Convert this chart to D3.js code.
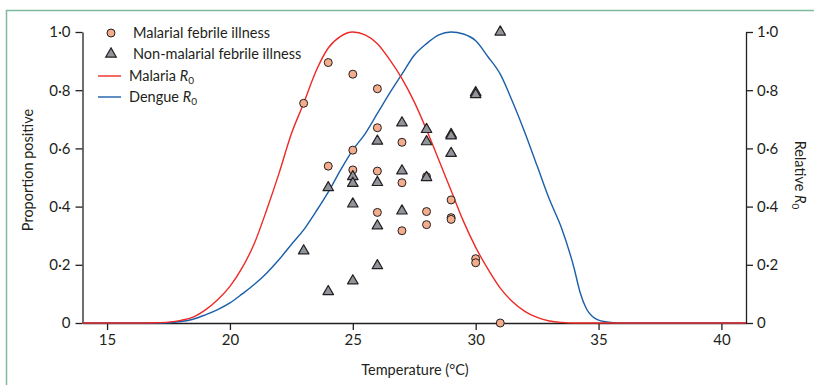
<!DOCTYPE html>
<html><head><meta charset="utf-8">
<script src="https://cdn.jsdelivr.net/npm/d3@7"></script>
<style>
body{margin:0;background:#fff;}
text{font-family:Lato,"Open Sans",sans-serif;fill:#231f20;}
</style></head>
<body><svg id="c" width="814" height="385"></svg>
<script>
// ---- data ----
const malariaTemp = [23,24,25,26,25,24,27,25,26,26,27,28,29,26,28,29,29,28,27,30,30,31];
const malariaProp = [0.755,0.895,0.855,0.805,0.594,0.539,0.621,0.526,0.671,0.522,0.482,0.503,0.423,0.380,0.383,0.362,0.356,0.338,0.317,0.221,0.207,0.0];

const nonMalTemp = [27,28,29,29,26,28,29,27,25,28,25,26,24,25,27,26,23,26,25,24,30,30,31];
const nonMalProp = [0.688,0.665,0.648,0.643,0.625,0.623,0.583,0.523,0.503,0.500,0.480,0.483,0.465,0.409,0.385,0.334,0.248,0.197,0.145,0.108,0.792,0.785,1.0];

const malR0Temp = [14,16,17,17.5,18,18.5,19,19.5,20,20.5,21,21.5,22,22.5,23,23.5,24,24.5,25,25.5,26,26.5,27,27.5,28,28.5,29,29.5,30,30.5,31,31.5,32,32.5,33,33.5,34,41];
const malR0Val  = [0,0,0.001,0.003,0.009,0.02,0.045,0.08,0.126,0.19,0.275,0.39,0.515,0.65,0.755,0.865,0.945,0.985,1.0,0.99,0.96,0.905,0.84,0.76,0.664,0.56,0.455,0.35,0.26,0.185,0.12,0.073,0.04,0.019,0.007,0.002,0,0];

const denR0Temp = [14,17,17.5,18,18.5,19,19.5,20,20.5,21,21.5,22,22.5,23,23.5,24,24.5,25,25.5,26,26.5,27,27.5,28,28.5,29,29.5,30,30.5,31,31.5,32,32.5,33,33.5,34,34.25,34.5,34.75,35,35.5,36,41];
const denR0Val  = [0,0,0.001,0.005,0.013,0.028,0.046,0.069,0.1,0.133,0.172,0.218,0.27,0.32,0.383,0.45,0.525,0.595,0.65,0.72,0.79,0.855,0.92,0.96,0.99,1.0,0.993,0.97,0.915,0.855,0.76,0.655,0.54,0.425,0.325,0.19,0.105,0.05,0.022,0.01,0.002,0,0];

const xTicks = [15,20,25,30,35,40];
const yTicks = [0,0.2,0.4,0.6,0.8,1.0];
const legendLabels = ["Malarial febrile illness","Non-malarial febrile illness","Malaria","Dengue"];

// ---- drawing ----
const svg = d3.select("#c");
const ink = "#231f20", red = "#ee2a24", blue = "#1a5fa8";
const circFill = "#f4ad8c", triFill = "#8f959a";

// frame
svg.append("path").attr("d","M6.5,385 L6.5,10.5 L814,10.5").attr("fill","none").attr("stroke","#7dbb9b").attr("stroke-width",1.5);

const x = d3.scaleLinear().domain([14,41]).range([82.5,746]);
const y = d3.scaleLinear().domain([0,1]).range([323,32]);
const fmt = d => d===0 ? "0" : d3.format(".1f")(d).replace(".","·");

function styleAxis(g){
  g.selectAll("path,line").attr("stroke",ink).attr("stroke-width",1.3);
  g.selectAll("text").attr("font-family","Lato, sans-serif").attr("font-size","15px").attr("fill",ink);
}
const gx = svg.append("g").attr("transform",`translate(0,${y(0)})`)
  .call(d3.axisBottom(x).tickValues(xTicks).tickSize(7).tickSizeOuter(0).tickPadding(4));
styleAxis(gx);
const gl = svg.append("g").attr("transform",`translate(${x(14)},0)`)
  .call(d3.axisLeft(y).tickValues(yTicks).tickFormat(fmt).tickSize(7).tickSizeOuter(0).tickPadding(5));
styleAxis(gl);
const gr = svg.append("g").attr("transform",`translate(${x(41)},0)`)
  .call(d3.axisRight(y).tickValues(yTicks).tickFormat(fmt).tickSize(7).tickSizeOuter(0).tickPadding(4));
styleAxis(gr);

// curves
const line = d3.line().x(d=>x(d[0])).y(d=>y(d[1])).curve(d3.curveMonotoneX);
svg.append("path").datum(denR0Temp.map((t,i)=>[t,denR0Val[i]]))
  .attr("d",line).attr("fill","none").attr("stroke",blue).attr("stroke-width",1.4);
svg.append("path").datum(malR0Temp.map((t,i)=>[t,malR0Val[i]]))
  .attr("d",line).attr("fill","none").attr("stroke",red).attr("stroke-width",1.4);

// points
const tri = d3.symbol().type(d3.symbolTriangle).size(48);
svg.append("g").selectAll("circle").data(malariaTemp.map((t,i)=>[t,malariaProp[i]])).join("circle")
  .attr("cx",d=>x(d[0])).attr("cy",d=>y(d[1])).attr("r",4)
  .attr("fill",circFill).attr("stroke",ink).attr("stroke-width",1);
svg.append("g").selectAll("path").data(nonMalTemp.map((t,i)=>[t,nonMalProp[i]])).join("path")
  .attr("d",tri).attr("transform",d=>`translate(${x(d[0])},${y(d[1])})`)
  .attr("fill",triFill).attr("stroke",ink).attr("stroke-width",1.2).attr("stroke-linejoin","round");

// legend
const lg = svg.append("g");
lg.append("circle").attr("cx",111).attr("cy",33).attr("r",4).attr("fill",circFill).attr("stroke",ink);
lg.append("path").attr("d",tri).attr("transform","translate(111,54)").attr("fill",triFill).attr("stroke",ink).attr("stroke-width",1.2);
lg.append("line").attr("x1",98).attr("x2",121).attr("y1",76).attr("y2",76).attr("stroke",red).attr("stroke-width",1.4);
lg.append("line").attr("x1",98).attr("x2",121).attr("y1",97).attr("y2",97).attr("stroke",blue).attr("stroke-width",1.4);
const fs = "14.5px";
lg.append("text").attr("x",133).attr("y",38).attr("font-size",fs).text(legendLabels[0]);
lg.append("text").attr("x",133).attr("y",59).attr("font-size",fs).text(legendLabels[1]);
function r0Label(g,xp,yp,name){
  const t = g.append("text").attr("x",xp).attr("y",yp).attr("font-size",fs);
  t.append("tspan").text(name+" ");
  t.append("tspan").attr("font-style","italic").text("R");
  t.append("tspan").attr("font-size","10px").attr("dy",3).text("0");
  return t;
}
r0Label(lg,129,81,legendLabels[2]);
r0Label(lg,129,102,legendLabels[3]);

// axis titles
svg.append("text").attr("x",415).attr("y",375).attr("text-anchor","middle").attr("font-size","14.5px").text("Temperature (°C)");
svg.append("text").attr("transform","translate(33,170) rotate(-90)").attr("text-anchor","middle").attr("font-size","14.5px").text("Proportion positive");
const rt = svg.append("text").attr("transform","translate(795,175) rotate(90)").attr("text-anchor","middle").attr("font-size","14.5px");
rt.append("tspan").text("Relative ");
rt.append("tspan").attr("font-style","italic").text("R");
rt.append("tspan").attr("font-size","10px").attr("dy",3).text("0");
</script></body></html>
